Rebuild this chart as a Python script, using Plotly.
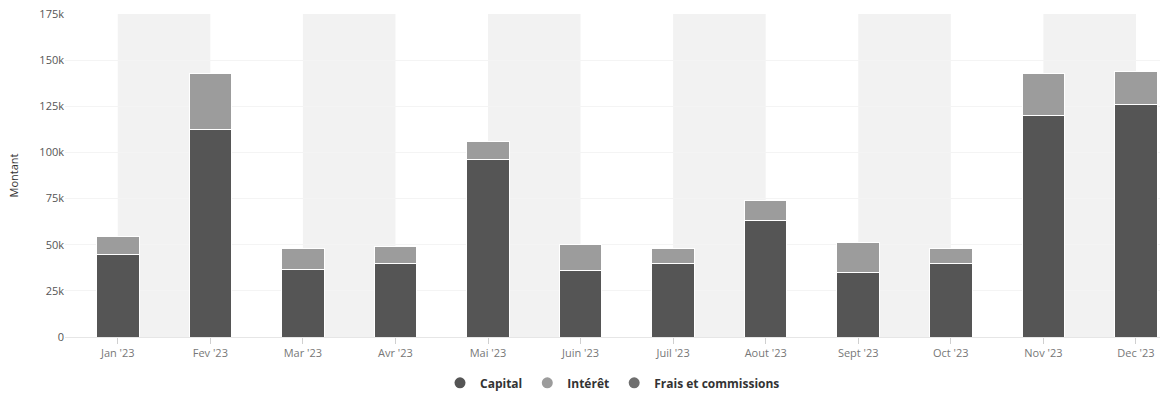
import plotly.graph_objects as go

# Monthly repayment breakdown (in dollars)
months = ["Jan '23", "Fev '23", "Mar '23", "Avr '23", "Mai '23", "Juin '23",
          "Juil '23", "Aout '23", "Sept '23", "Oct '23", "Nov '23", "Dec '23"]
capital = [44800, 112400, 36500, 39700, 96300, 35800,
           39900, 63300, 34700, 40000, 120000, 126200]
interet = [9900, 30300, 11500, 9200, 9600, 14400,
           8300, 10500, 16600, 8100, 22600, 17900]
frais = [0, 0, 0, 0, 0, 0, 0, 0, 0, 0, 0, 0]

y_ticks = [0, 25000, 50000, 75000, 100000, 125000, 150000, 175000]
y_labels = ["0", "25k", "50k", "75k", "100k", "125k", "150k", "175k"]

c_capital = "#555555"
c_interet = "#9c9c9c"
c_frais = "#6e6e6e"

xs = list(range(len(months)))

fig = go.Figure()
for name, vals, col in [("Capital", capital, c_capital),
                        ("Intérêt", interet, c_interet),
                        ("Frais et commissions", frais, c_frais)]:
    fig.add_trace(go.Bar(
        x=xs, y=vals, name=name, marker=dict(color=col, line=dict(color="white", width=1)),
        width=0.46, showlegend=False,
    ))
    # round legend swatch
    fig.add_trace(go.Scatter(
        x=[None], y=[None], mode="markers", name=f"<b>{name}</b>",
        marker=dict(symbol="circle", size=11, color=col),
    ))

# alternating background bands between pairs of months
shapes = []
for i in range(0, len(months) - 1, 2):
    shapes.append(dict(type="rect", xref="x", yref="y", x0=i, x1=i + 1,
                       y0=0, y1=175000, fillcolor="#f2f2f2", line=dict(width=0),
                       layer="below"))

fig.update_layout(
    width=1176, height=393,
    margin=dict(l=65, r=16, t=14, b=56, autoexpand=False),
    barmode="stack",
    plot_bgcolor="white", paper_bgcolor="white",
    font=dict(family="Open Sans", size=11, color="#666666"),
    shapes=shapes,
    xaxis=dict(
        tickmode="array", tickvals=xs, ticktext=months,
        range=[-0.57, 11.26], showgrid=False,
        showline=True, linecolor="#e6e6e6", linewidth=1,
        ticks="outside", ticklen=6, tickcolor="#d0d0d0",
        tickfont=dict(size=11, color="#777777"),
    ),
    yaxis=dict(
        tickmode="array", tickvals=y_ticks, ticktext=y_labels,
        range=[0, 175000], showgrid=True, gridcolor="#f4f4f4",
        zeroline=False, ticks="", tickfont=dict(size=11, color="#555555"),
        title=dict(text="Montant", font=dict(size=11, color="#333333"), standoff=18),
    ),
    legend=dict(
        orientation="h", x=0.5, xanchor="center", y=-0.142, yanchor="middle",
        traceorder="normal",
        font=dict(size=12, color="#333333", family="Open Sans"),
        itemwidth=30,
    ),
)

fig.write_html("out.html")
